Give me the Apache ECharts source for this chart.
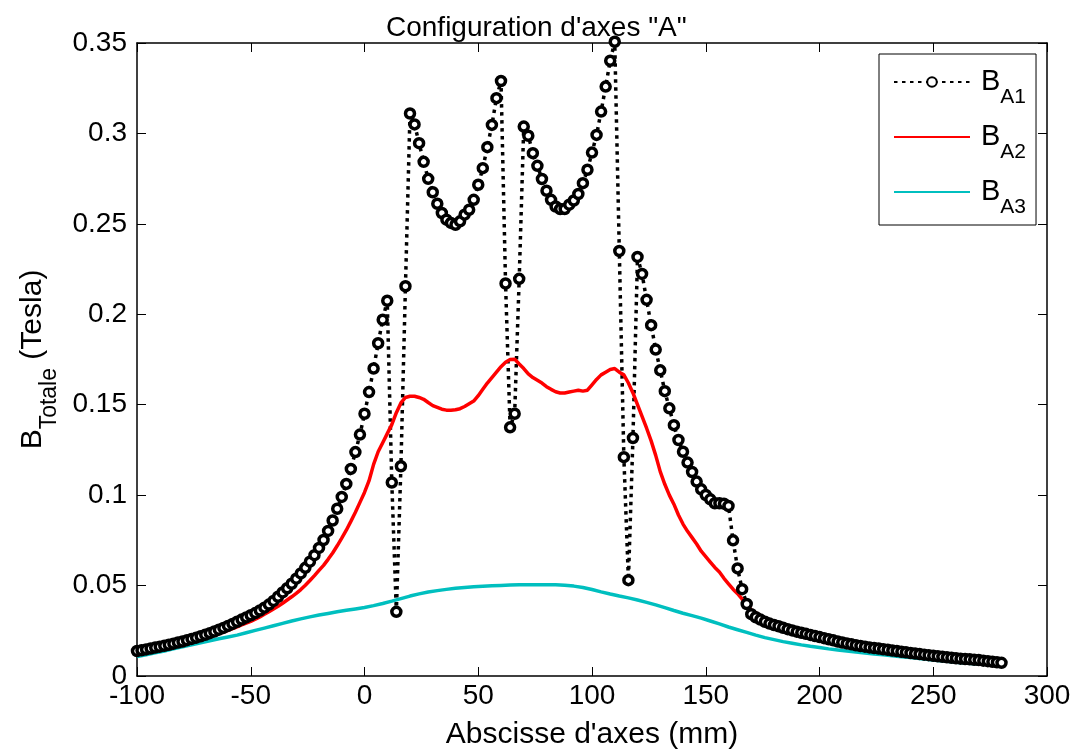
<!DOCTYPE html>
<html>
<head>
<meta charset="utf-8">
<script src="https://cdn.jsdelivr.net/npm/echarts@6/dist/echarts.min.js"></script>
<style>
html,body{margin:0;padding:0;background:#fff;}
#chart{width:1077px;height:755px;}
</style>
</head>
<body>
<div id="chart"></div>
<script>
// x positions (mm) for B_A1 and B_A2
var xA12 = [-100,-98,-96,-94,-92,-90,-88,-86,-84,-82,-80,-78,-76,-74,-72,-70,-68,-66,-64,-62,
-60,-58,-56,-54,-52,-50,-48,-46,-44,-42,-40,-38,-36,-34,-32,-30,-28,-26,-24,-22,
-20,-18,-16,-14,-12,-10,-8,-6,-4,-2,0,2,4,6,8,10,12,14,16,18,
20,22,24,26,28,30,32,34,36,38,40,42,44,46,48,50,52,54,56,58,
60,62,64,66,68,70,72,74,76,78,80,82,84,86,88,90,92,94,96,98,
100,102,104,106,108,110,112,114,116,118,120,122,124,126,128,130,132,134,136,138,
140,142,144,146,148,150,152,154,156,158,160,162,164,166,168,170,172,174,176,178,
180,182,184,186,188,190,192,194,196,198,200,202,204,206,208,210,212,214,216,218,
220,222,224,226,228,230,232,234,236,238,240,242,244,246,248,250,252,254,256,258,
260,262,264,266,268,270,272,274,276,278,280];

var bA1 = [
0.0138,0.0142,0.0147,0.0152,0.0157,0.0162,0.0167,0.0173,0.0179,0.0185,
0.0191,0.0198,0.0205,0.0212,0.0220,0.0228,0.0237,0.0246,0.0256,0.0266,
0.0277,0.0288,0.0300,0.0312,0.0324,0.0336,0.0348,0.0362,0.0378,0.0395,
0.0415,0.0438,0.0462,0.0485,0.0510,0.0538,0.0567,0.0598,0.0632,0.0668,
0.0708,0.0752,0.0802,0.0860,0.0925,0.0990,0.1062,0.1145,0.1238,0.1335,
0.1450,0.1570,0.1700,0.1840,0.1970,0.2075,0.1070,0.0355,0.1160,0.2155,
0.3110,0.3050,0.2946,0.2843,0.2749,0.2675,0.2611,0.2560,0.2523,0.2505,
0.2495,0.2514,0.2551,0.2578,0.2633,0.2716,0.2808,0.2924,0.3047,0.3195,
0.3290,0.2170,0.1375,0.1450,0.2196,0.3038,0.2987,0.2891,0.2821,0.2748,
0.2683,0.2633,0.2596,0.2582,0.2582,0.2606,0.2629,0.2665,0.2725,0.2799,
0.2894,0.2992,0.3121,0.3259,0.3402,0.3507,0.2350,0.1210,0.0530,0.1316,
0.2317,0.2223,0.2080,0.1940,0.1805,0.1690,0.1575,0.1480,0.1387,0.1305,
0.1240,0.1180,0.1128,0.1075,0.1032,0.1001,0.0977,0.0955,0.0955,0.0953,
0.0940,0.0750,0.0595,0.0480,0.0398,0.0342,0.0325,0.0312,0.0300,0.0290,
0.0282,0.0275,0.0267,0.0259,0.0252,0.0245,0.0239,0.0233,0.0227,0.0221,
0.0215,0.0209,0.0203,0.0197,0.0191,0.0185,0.0180,0.0175,0.0170,0.0166,
0.0162,0.0158,0.0155,0.0152,0.0148,0.0145,0.0141,0.0138,0.0134,0.0131,
0.0127,0.0124,0.0121,0.0118,0.0115,0.0112,0.0109,0.0106,0.0103,0.0101,
0.0098,0.0096,0.0094,0.0092,0.0090,0.0088,0.0085,0.0082,0.0079,0.0076,
0.0073];

var bA2 = [
0.0133,0.0137,0.0141,0.0145,0.0150,0.0154,0.0159,0.0164,0.0169,0.0174,
0.0180,0.0186,0.0192,0.0198,0.0205,0.0212,0.0219,0.0227,0.0235,0.0243,
0.0252,0.0262,0.0272,0.0282,0.0292,0.0302,0.0314,0.0327,0.0341,0.0355,
0.0370,0.0385,0.0402,0.0420,0.0438,0.0457,0.0478,0.0502,0.0528,0.0555,
0.0584,0.0612,0.0645,0.0680,0.0720,0.0762,0.0806,0.0855,0.0905,0.0960,
0.1015,0.1080,0.1170,0.1240,0.1290,0.1340,0.1390,0.1456,0.1510,0.1540,
0.1547,0.1547,0.1540,0.1530,0.1512,0.1495,0.1485,0.1475,0.1470,0.1470,
0.1472,0.1478,0.1490,0.1505,0.1520,0.1550,0.1585,0.1620,0.1650,0.1680,
0.1710,0.1735,0.1750,0.1752,0.1725,0.1700,0.1670,0.1650,0.1635,0.1620,
0.1600,0.1585,0.1572,0.1565,0.1565,0.1570,0.1575,0.1580,0.1575,0.1580,
0.1610,0.1640,0.1665,0.1680,0.1695,0.1700,0.1680,0.1665,0.1620,0.1565,
0.1500,0.1435,0.1370,0.1300,0.1220,0.1130,0.1060,0.1000,0.0950,0.0890,
0.0840,0.0800,0.0765,0.0730,0.0690,0.0660,0.0630,0.0600,0.0575,0.0540,
0.0510,0.0480,0.0455,0.0425,0.0400,0.0365,0.0350,0.0335,0.0320,0.0305,
0.0292,0.0280,0.0268,0.0258,0.0248,0.0240,0.0232,0.0224,0.0216,0.0208,
0.0201,0.0194,0.0188,0.0182,0.0176,0.0171,0.0166,0.0162,0.0158,0.0154,
0.0151,0.0147,0.0143,0.0139,0.0135,0.0131,0.0127,0.0123,0.0119,0.0115,
0.0112,0.0109,0.0106,0.0103,0.0100,0.0098,0.0096,0.0095,0.0094,0.0093,
0.0092,0.0091,0.0090,0.0088,0.0086,0.0084,0.0082,0.0080,0.0078,0.0077,
0.0076];

// x positions (mm) for B_A3
var xA3 = [-100,-96,-92,-88,-84,-80,-76,-72,-68,-64,-60,-56,-52,-48,-44,-40,-36,-32,-28,-24,
-20,-16,-12,-8,-4,0,4,8,12,16,20,24,28,32,36,40,44,48,52,56,
60,64,68,72,76,80,84,88,92,96,100,104,108,112,116,120,124,128,132,136,
140,144,148,152,156,160,164,168,172,176,180,184,188,192,196,200,204,208,212,216,
220,224,228,232,236,240,244,248,252,256,260,264,268,272,276,280];

var bA3 = [
0.0108,0.0118,0.0128,0.0138,0.0150,0.0161,0.0172,0.0184,0.0195,0.0206,
0.0216,0.0226,0.0239,0.0252,0.0265,0.0278,0.0291,0.0304,0.0316,0.0327,
0.0337,0.0346,0.0355,0.0363,0.0371,0.0379,0.0389,0.0401,0.0414,0.0428,
0.0442,0.0454,0.0464,0.0472,0.0479,0.0485,0.0489,0.0493,0.0496,0.0499,
0.0501,0.0503,0.0504,0.0504,0.0504,0.0504,0.0504,0.0502,0.0497,0.0489,
0.0478,0.0465,0.0453,0.0442,0.0432,0.0420,0.0407,0.0393,0.0378,0.0362,
0.0347,0.0334,0.0320,0.0304,0.0288,0.0271,0.0256,0.0241,0.0226,0.0212,
0.0201,0.0190,0.0181,0.0172,0.0164,0.0157,0.0150,0.0144,0.0138,0.0132,
0.0127,0.0122,0.0117,0.0112,0.0107,0.0102,0.0097,0.0091,0.0086,0.0081,
0.0076,0.0072,0.0068,0.0065,0.0063,0.0061];

var titleText = 'Configuration d\'axes "A"';
var xName = 'Abscisse d\'axes (mm)';
var seriesNames = ['BA1', 'BA2', 'BA3'];
var seriesSubs = {BA1: 'A1', BA2: 'A2', BA3: 'A3'};

function pairs(xs, ys) {
  var out = [];
  for (var i = 0; i < xs.length; i++) out.push([xs[i], ys[i]]);
  return out;
}

var FONT = 'Liberation Sans, Arial, sans-serif';
var chart = echarts.init(document.getElementById('chart'), null, {renderer: 'canvas'});

function axisCommon(showLabel) {
  return {
    axisLine: {show: true, onZero: false, lineStyle: {color: '#000', width: 1.5}},
    axisTick: {show: true, inside: true, length: 9, lineStyle: {color: '#000', width: 1}},
    axisLabel: {show: showLabel, color: '#000', fontSize: 28, fontFamily: FONT},
    splitLine: {show: false}
  };
}

var xBottom = Object.assign(axisCommon(true), {
  type: 'value', min: -100, max: 300, interval: 50, position: 'bottom',
  name: xName, nameLocation: 'middle', nameGap: 44,
  nameTextStyle: {color: '#000', fontSize: 30, fontFamily: FONT}
});
xBottom.axisLabel.margin = 6;
var xTop = Object.assign(axisCommon(false), {
  type: 'value', min: -100, max: 300, interval: 50, position: 'top'
});
var yLeft = Object.assign(axisCommon(true), {
  type: 'value', min: 0, max: 0.35, interval: 0.05, position: 'left',
  name: '{b|B}{s|Totale}{b| (Tesla)}', nameLocation: 'middle', nameRotate: 90, nameGap: 87,
  nameTextStyle: {
    color: '#000', fontFamily: FONT,
    rich: {
      b: {fontSize: 30, fontFamily: FONT, color: '#000', lineHeight: 32, verticalAlign: 'top'},
      s: {fontSize: 23, fontFamily: FONT, color: '#000', lineHeight: 23, padding: [21, 0, 0, 0], verticalAlign: 'top'}
    }
  }
});
yLeft.axisLabel.margin = 10;
var yRight = Object.assign(axisCommon(false), {
  type: 'value', min: 0, max: 0.35, interval: 0.05, position: 'right'
});

var option = {
  backgroundColor: '#fff',
  animation: false,
  title: {
    text: titleText, left: 381, top: 9,
    textStyle: {color: '#000', fontSize: 28, fontWeight: 'normal', fontFamily: FONT}
  },
  grid: {left: 137, right: 30, top: 43, bottom: 78},
  xAxis: [xBottom, xTop],
  yAxis: [yLeft, yRight],
  legend: {
    data: [
      {name: 'BA1'},
      {name: 'BA2', itemStyle: {opacity: 0, color: 'rgba(0,0,0,0)', borderWidth: 0}},
      {name: 'BA3', itemStyle: {opacity: 0, color: 'rgba(0,0,0,0)', borderWidth: 0}}
    ],
    orient: 'vertical', left: 879, top: 54,
    itemWidth: 76, itemHeight: 12, itemGap: 14,
    padding: [13, 10, 7, 14],
    borderColor: '#000', borderWidth: 1, backgroundColor: '#fff',
    formatter: function (name) { return '{b|B}{s|' + seriesSubs[name] + '}'; },
    textStyle: {
      color: '#000', fontFamily: FONT,
      rich: {
        b: {fontSize: 29, fontFamily: FONT, color: '#000', lineHeight: 30, verticalAlign: 'top', padding: [0, 0, 0, 6]},
        s: {fontSize: 21, fontFamily: FONT, color: '#000', lineHeight: 21, padding: [20, 0, 0, 0], verticalAlign: 'top'}
      }
    }
  },
  series: [
    {
      name: 'BA1', type: 'line', data: pairs(xA12, bA1), clip: false,
      symbol: 'circle', symbolSize: 9, showAllSymbol: true,
      lineStyle: {color: '#000', width: 3.5, type: [3.5, 4.5]},
      itemStyle: {color: '#fff', borderColor: '#000', borderWidth: 3.5}
    },
    {
      name: 'BA2', type: 'line', data: pairs(xA12, bA2), showSymbol: false, symbol: 'none',
      lineStyle: {color: '#ff0000', width: 3.5}, itemStyle: {color: '#ff0000'}
    },
    {
      name: 'BA3', type: 'line', data: pairs(xA3, bA3), showSymbol: false, symbol: 'none',
      lineStyle: {color: '#00bfbf', width: 3.5}, itemStyle: {color: '#00bfbf'}
    }
  ]
};
chart.setOption(option);
</script>
</body>
</html>
